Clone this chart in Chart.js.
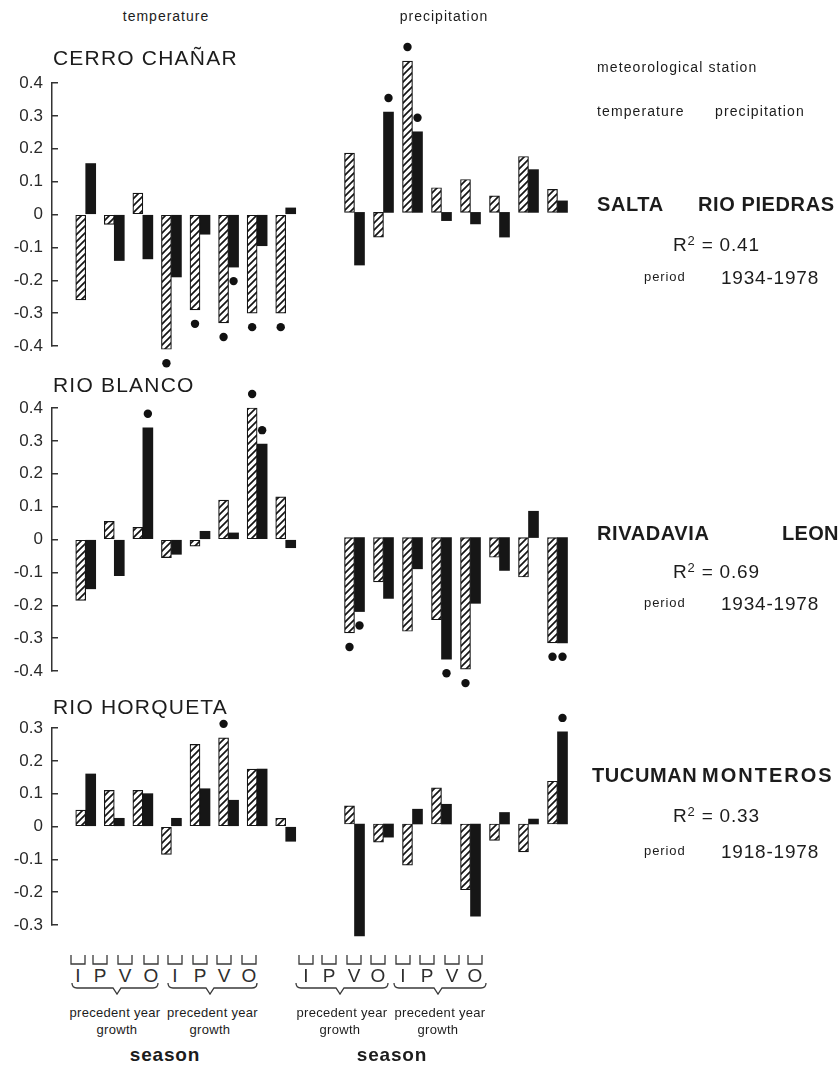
<!DOCTYPE html>
<html>
<head>
<meta charset="utf-8">
<script src="https://cdn.jsdelivr.net/npm/chart.js@4.4.1/dist/chart.umd.min.js"></script>
<style>
body { margin: 0; background: #fff; }
#fig { position: relative; width: 838px; height: 1068px; overflow: hidden; font-family: "Liberation Sans", Arial, sans-serif; color: #1c1c1c; }
#fig canvas { position: absolute; }
.t { position: absolute; white-space: nowrap; line-height: 1; }
#marks { position: absolute; left: 0; top: 0; }
</style>
</head>
<body>
<div id="fig"><svg id="marks" width="838" height="1068"></svg></div>
<script>
// seasons: I P V O of the precedent year, then of the growth year
const seasons = ["I", "P", "V", "O", "I", "P", "V", "O"];
const braceLines = ["precedent year", "growth"];

const stations = ["CERRO CHAÑAR", "RIO BLANCO", "RIO HORQUETA"];
const tempStations = ["SALTA", "RIVADAVIA", "TUCUMAN"];
const precStations = ["RIO PIEDRAS", "LEON", "MONTEROS"];
const r2Values = ["0.41", "0.69", "0.33"];
const periods = ["1934-1978", "1934-1978", "1918-1978"];

const ticksWide = [-0.4, -0.3, -0.2, -0.1, 0, 0.1, 0.2, 0.3, 0.4];
const ticksNarrow = [-0.3, -0.2, -0.1, 0, 0.1, 0.2, 0.3];

// CERRO CHAÑAR
const chanarTempHatch = [-0.26, -0.03, 0.065, -0.41, -0.29, -0.33, -0.30, -0.30];
const chanarTempSolid = [0.155, -0.14, -0.135, -0.19, -0.06, -0.16, -0.095, 0.02];
const chanarPrecHatch = [0.18, -0.075, 0.46, 0.075, 0.10, 0.05, 0.17, 0.07];
const chanarPrecSolid = [-0.16, 0.305, 0.245, -0.025, -0.035, -0.075, 0.13, 0.035];
const chanarTempHatchSig = [0, 0, 0, 1, 1, 1, 1, 1];
const chanarTempSolidSig = [0, 0, 0, 0, 0, 1, 0, 0];
const chanarPrecHatchSig = [0, 0, 1, 0, 0, 0, 0, 0];
const chanarPrecSolidSig = [0, 1, 1, 0, 0, 0, 0, 0];

// RIO BLANCO
const blancoTempHatch = [-0.185, 0.055, 0.037, -0.055, -0.02, 0.12, 0.40, 0.13];
const blancoTempSolid = [-0.15, -0.11, 0.34, -0.045, 0.025, 0.02, 0.29, -0.025];
const blancoPrecHatch = [-0.29, -0.135, -0.285, -0.25, -0.40, -0.06, -0.12, -0.32];
const blancoPrecSolid = [-0.225, -0.185, -0.095, -0.37, -0.20, -0.10, 0.08, -0.32];
const blancoTempHatchSig = [0, 0, 0, 0, 0, 0, 1, 0];
const blancoTempSolidSig = [0, 0, 1, 0, 0, 0, 1, 0];
const blancoPrecHatchSig = [1, 0, 0, 0, 1, 0, 0, 1];
const blancoPrecSolidSig = [1, 0, 0, 1, 0, 0, 0, 1];

// RIO HORQUETA
const horqTempHatch = [0.05, 0.11, 0.11, -0.085, 0.25, 0.27, 0.175, 0.025];
const horqTempSolid = [0.16, 0.025, 0.10, 0.025, 0.115, 0.08, 0.175, -0.045];
const horqPrecHatch = [0.055, -0.055, -0.125, 0.11, -0.20, -0.05, -0.085, 0.13];
const horqPrecSolid = [-0.34, -0.04, 0.045, 0.06, -0.28, 0.035, 0.015, 0.28];
const horqTempHatchSig = [0, 0, 0, 0, 0, 1, 0, 0];
const horqTempSolidSig = [0, 0, 0, 0, 0, 0, 0, 0];
const horqPrecHatchSig = [0, 0, 0, 0, 0, 0, 0, 0];
const horqPrecSolidSig = [0, 0, 0, 0, 0, 0, 0, 1];

const fig = document.getElementById("fig");
const UY = 329;   // pixels per 1.0 of correlation
const PAD = 26;
const AXIS_W = 52;

// hatched fill
function makeHatch() {
    const c = document.createElement("canvas");
    c.width = 7; c.height = 7;
    const g = c.getContext("2d");
    g.fillStyle = "#fff";
    g.fillRect(0, 0, 7, 7);
    g.strokeStyle = "#151515";
    g.lineWidth = 1.7;
    g.beginPath();
    g.moveTo(-1, 8); g.lineTo(8, -1);
    g.moveTo(-2, 2); g.lineTo(2, -2);
    g.moveTo(5, 9); g.lineTo(9, 5);
    g.stroke();
    return g.createPattern(c, "repeat");
}
const hatch = makeHatch();

// significance dots beyond the bar end
const sigDots = {
    id: "sigDots",
    afterDatasetsDraw(chart) {
        const ctx = chart.ctx;
        chart.data.datasets.forEach((ds, d) => {
            const meta = chart.getDatasetMeta(d);
            ds.sig.forEach((s, i) => {
                if (!s) return;
                const bar = meta.data[i];
                const up = ds.data[i].y >= 0;
                ctx.beginPath();
                ctx.arc(bar.x, bar.y + (up ? -14 : 14), 4.2, 0, Math.PI * 2);
                ctx.fillStyle = "#111";
                ctx.fill();
            });
        });
    }
};

const panels = [
    { hatch: chanarTempHatch, solid: chanarTempSolid, hs: chanarTempHatchSig, ss: chanarTempSolidSig, axis: true, ticks: ticksWide,
      zero: 214.5, yMin: -0.4, yMax: 0.4, left: 52, xMin: -1.18, xMax: 7.5, ux: 28.6 },
    { hatch: chanarPrecHatch, solid: chanarPrecSolid, hs: chanarPrecHatchSig, ss: chanarPrecSolidSig, axis: false, ticks: ticksWide,
      zero: 212, yMin: -0.4, yMax: 0.6, left: 339.5, xMin: -0.5, xMax: 7.5, ux: 29 },
    { hatch: blancoTempHatch, solid: blancoTempSolid, hs: blancoTempHatchSig, ss: blancoTempSolidSig, axis: true, ticks: ticksWide,
      zero: 540, yMin: -0.4, yMax: 0.4, left: 52, xMin: -1.18, xMax: 7.5, ux: 28.6 },
    { hatch: blancoPrecHatch, solid: blancoPrecSolid, hs: blancoPrecHatchSig, ss: blancoPrecSolidSig, axis: false, ticks: ticksWide,
      zero: 538, yMin: -0.5, yMax: 0.4, left: 339.5, xMin: -0.5, xMax: 7.5, ux: 29 },
    { hatch: horqTempHatch, solid: horqTempSolid, hs: horqTempHatchSig, ss: horqTempSolidSig, axis: true, ticks: ticksNarrow,
      zero: 826.5, yMin: -0.3, yMax: 0.3, left: 52, xMin: -1.18, xMax: 7.5, ux: 28.6 },
    { hatch: horqPrecHatch, solid: horqPrecSolid, hs: horqPrecHatchSig, ss: horqPrecSolidSig, axis: false, ticks: ticksNarrow,
      zero: 824, yMin: -0.45, yMax: 0.45, left: 339.5, xMin: -0.5, xMax: 7.5, ux: 29 },
];

panels.forEach((p) => {
    const top = p.zero - p.yMax * UY;
    const bottom = p.zero - p.yMin * UY;
    const plotW = (p.xMax - p.xMin) * p.ux;
    const axisW = p.axis ? AXIS_W : 0;
    const cv = document.createElement("canvas");
    const W = Math.round(plotW + axisW + PAD * 2);
    const H = Math.round(bottom - top + PAD * 2);
    cv.width = W; cv.height = H;
    cv.style.width = W + "px"; cv.style.height = H + "px";
    cv.style.left = (p.left - axisW - PAD) + "px";
    cv.style.top = (top - PAD) + "px";
    fig.appendChild(cv);

    new Chart(cv.getContext("2d"), {
        type: "bar",
        data: {
            datasets: [
                {
                    data: p.hatch.map((v, i) => ({ x: i, y: v })),
                    backgroundColor: hatch,
                    borderColor: "#151515",
                    borderWidth: 1.2,
                    borderSkipped: false,
                    barThickness: 10,
                    clip: false,
                    sig: p.hs,
                },
                {
                    data: p.solid.map((v, i) => ({ x: i, y: v })),
                    backgroundColor: "#161616",
                    borderWidth: 0,
                    barThickness: 10,
                    clip: false,
                    sig: p.ss,
                },
            ],
        },
        options: {
            responsive: false,
            animation: false,
            events: [],
            layout: { padding: { left: PAD, right: PAD, top: PAD, bottom: PAD } },
            plugins: { legend: { display: false }, tooltip: { enabled: false } },
            scales: {
                x: { type: "linear", min: p.xMin, max: p.xMax, offset: false, display: false },
                y: {
                    min: p.yMin,
                    max: p.yMax,
                    display: p.axis,
                    afterFit: (scale) => { scale.width = axisW; },
                    afterBuildTicks: (scale) => { scale.ticks = p.ticks.map((v) => ({ value: v })); },
                    border: { display: true, color: "#333", width: 1.5 },
                    grid: { drawOnChartArea: false, drawTicks: true, tickLength: -6, color: "#333", lineWidth: 1.5 },
                    ticks: {
                        padding: 15,
                        color: "#2a2a2a",
                        font: { size: 17, family: "Liberation Sans, Arial, sans-serif" },
                        callback: (v) => (Math.abs(v) < 1e-9 ? "0" : Number(v).toFixed(1)),
                    },
                },
            },
        },
        plugins: [sigDots],
    });
});

// texts
function text(str, x, y, size, opts = {}) {
    const el = document.createElement("div");
    el.className = "t";
    el.innerHTML = str;
    el.style.left = x + "px";
    el.style.top = y + "px";
    el.style.fontSize = size + "px";
    if (opts.bold) el.style.fontWeight = "bold";
    if (opts.ls) el.style.letterSpacing = opts.ls + "px";
    if (opts.center) el.style.transform = "translateX(-50%)";
    if (opts.color) el.style.color = opts.color;
    fig.appendChild(el);
}

text("temperature", 166, 9, 14, { center: true, ls: 1 });
text("precipitation", 444, 9, 14, { center: true, ls: 1 });

const stationTops = [47, 374, 696];
stations.forEach((s, k) => text(s, 53, stationTops[k], 21, { ls: 1.2 }));

text("meteorological station", 597, 60, 14, { ls: 1.1 });
text("temperature", 597, 104, 14, { ls: 1.1 });
text("precipitation", 715, 104, 14, { ls: 1.1 });

const infoTops = [194, 523, 765];
const precLeft = [698, 782, 702];
const tempLeft = [597, 597, 592];
const precLs = [0.6, 0.3, 2];
infoTops.forEach((y, k) => {
    text(tempStations[k], tempLeft[k], y, 20, { bold: true, ls: 0.6 });
    text(precStations[k], precLeft[k], y, 20, { bold: true, ls: precLs[k] });
    const r = [233.5, 560.5, 805][k];
    text('R<span style="font-size:13px;vertical-align:6px">2</span> = ' + r2Values[k], 673, r, 19, { ls: 0.8 });
    const pr = [267.5, 593.5, 841.5][k];
    text("period", 644, pr + 2.5, 13, { ls: 0.9 });
    text(periods[k], 721, pr, 19, { ls: 0.8 });
});

// season labels, brackets and braces
const tempLabelX = [78, 100, 125, 151, 175, 200, 224, 249];
const precLabelX = [306, 329, 354, 378, 403, 427, 452, 475];
const svg = document.getElementById("marks");
function path(d) {
    const p = document.createElementNS("http://www.w3.org/2000/svg", "path");
    p.setAttribute("d", d);
    p.setAttribute("fill", "none");
    p.setAttribute("stroke", "#3a3a3a");
    p.setAttribute("stroke-width", "1.3");
    svg.appendChild(p);
}
[tempLabelX, precLabelX].forEach((xs) => {
    xs.forEach((x, i) => {
        path(`M${x - 7} 955 V964 H${x + 7} V955`);
        text(seasons[i], x, 966, 19, { center: true, color: "#2e2e2e" });
    });
});
const braces = [[72, 158, 117], [168, 257, 210], [296, 388, 340], [394, 486, 438]];
braces.forEach(([a, b, m]) => {
    path(`M${a} 983 Q${a} 988 ${a + 5} 988 H${m - 4} L${m} 994 L${m + 4} 988 H${b - 5} Q${b} 988 ${b} 983`);
    text(braceLines[0], (a + b) / 2, 1005.5, 13, { center: true, ls: 0.3 });
    text(braceLines[1], m, 1022.5, 13, { center: true, ls: 0.3 });
});
text("season", 165, 1045, 19, { bold: true, center: true, ls: 0.8 });
text("season", 392, 1045, 19, { bold: true, center: true, ls: 0.8 });
</script>
</body>
</html>
